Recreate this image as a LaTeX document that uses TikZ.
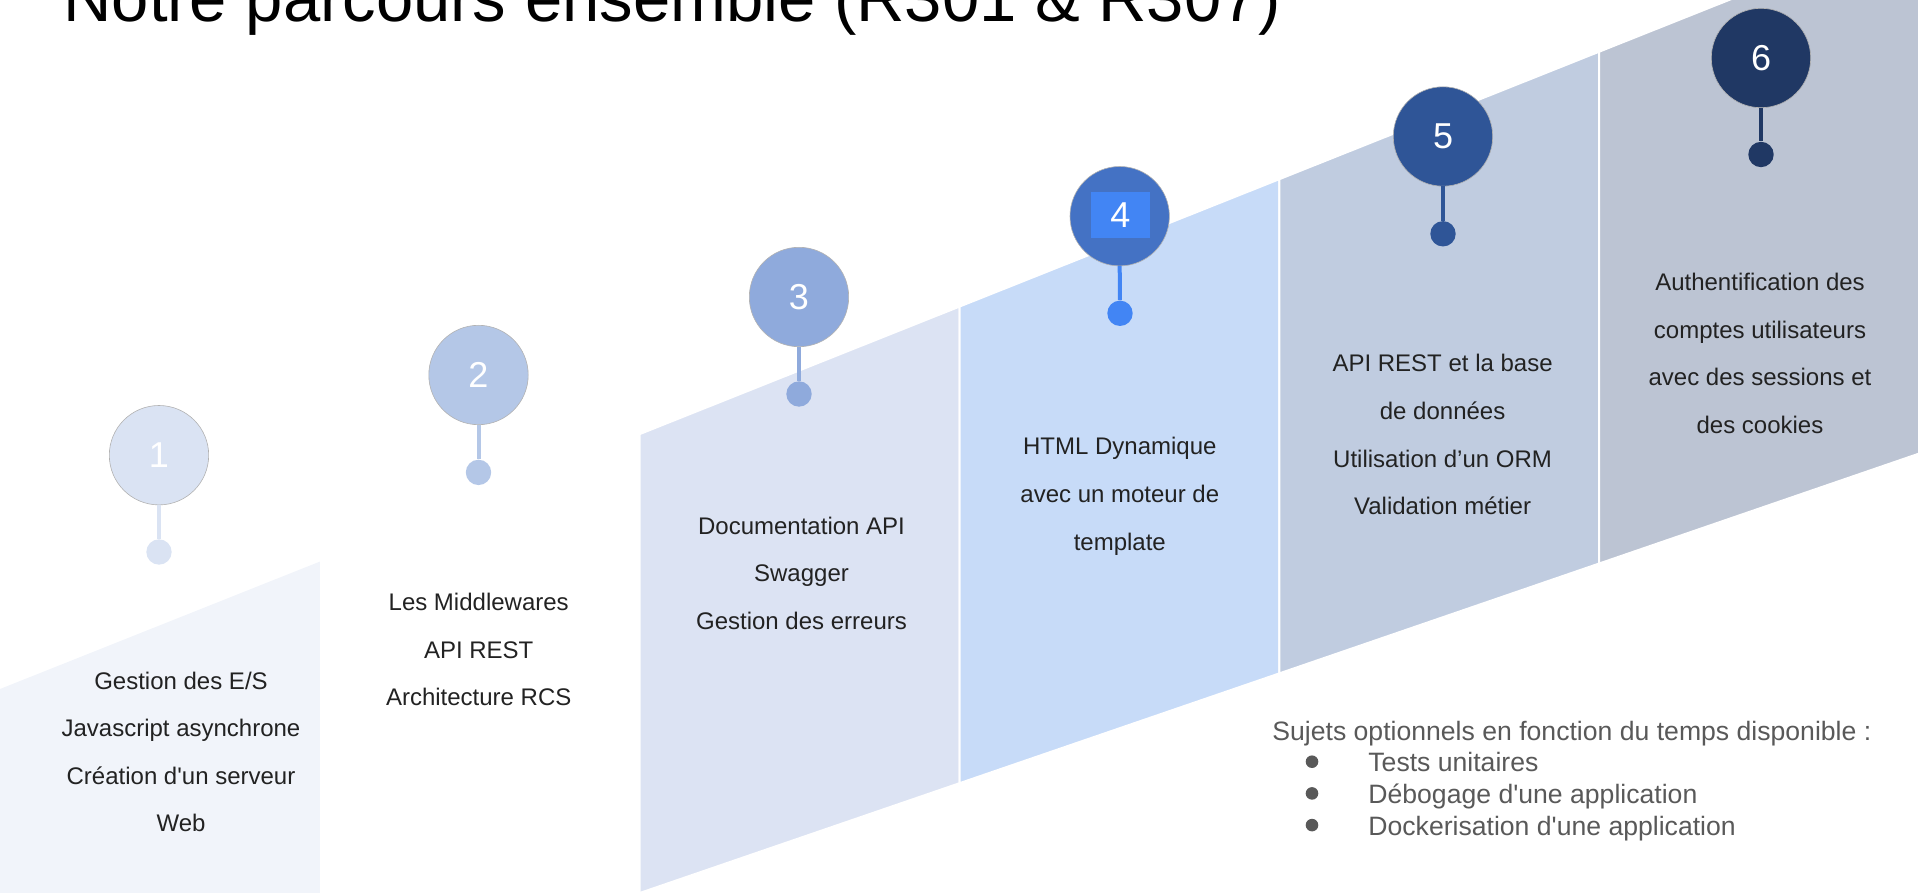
\documentclass[tikz,border=0pt]{standalone}
\usepackage{fontspec}
\setmainfont{Liberation Sans}
\definecolor{panelA}{HTML}{F1F4FA}
\definecolor{panelC}{HTML}{DCE3F3}
\definecolor{panelD}{HTML}{C7DBF8}
\definecolor{panelE}{HTML}{C0CCE0}
\definecolor{panelF}{HTML}{BCC4D3}
\definecolor{stepA}{HTML}{DAE3F3}
\definecolor{stepB}{HTML}{B4C7E7}
\definecolor{stepC}{HTML}{8FAADC}
\definecolor{stepD}{HTML}{4472C4}
\definecolor{stepDpin}{HTML}{4285F4}
\definecolor{stepE}{HTML}{2F5597}
\definecolor{stepF}{HTML}{203864}
\definecolor{bodytext}{HTML}{222222}
\definecolor{notetext}{HTML}{595959}
\tikzset{
  panel/.style={draw=white, line width=1pt},
  badge/.style={circle, inner sep=0pt, minimum size=49.7pt, fill=#1,
    draw=gray!60, line width=0.3pt, text=white,
    font=\fontsize{18}{20}\selectfont},
  pindot/.style={circle, inner sep=0pt, minimum size=12.7pt, fill=#1},
  pinline/.style={draw=#1, line width=2pt},
  % multi-line nodes: the base anchor sits on the last line's baseline
  ptext/.style={font=\fontsize{12}{23.75}\selectfont, align=center,
    anchor=base, inner sep=0pt, text=bodytext},
  note/.style={font=\fontsize{13.3}{15.85}\selectfont, anchor=base west,
    inner sep=0pt, text=notetext},
  bullet/.style={circle, inner sep=0pt, minimum size=6.3pt, fill=notetext}
}
\begin{document}
\begin{tikzpicture}[x=0.5pt, y=-0.5pt]
\useasboundingbox (0,0) rectangle (1919,893);
\clip (0,0) rectangle (1919,893);

% staircase panels
\fill[panelA] (0,689) -- (319.8,561.6) -- (319.8,893) -- (0,893) -- cycle;
\filldraw[panel, fill=panelC] (639.7,434.1) -- (959.5,306.6) -- (959.5,783.2) -- (639.7,893) -- cycle;
\filldraw[panel, fill=panelD] (959.5,306.6) -- (1279.3,179.2) -- (1279.3,673.4) -- (959.5,783.2) -- cycle;
\filldraw[panel, fill=panelE] (1279.3,179.2) -- (1599.2,51.7) -- (1599.2,563.5) -- (1279.3,673.4) -- cycle;
\filldraw[panel, fill=panelF] (1599.2,51.7) -- (1919,-75.7) -- (1919,453.6) -- (1599.2,563.5) -- cycle;

% title
\node[anchor=base west, inner sep=0pt, font=\fontsize{33.5}{38}\selectfont]
  (title) at (63,22) {Notre parcours ensemble (R301 \& R307)};

% step markers
\node[pindot=stepA] (d1) at (159,552) {};
\node[pindot=stepB] (d2) at (478.5,472.4) {};
\node[pindot=stepC] (d3) at (799,394) {};
\node[pindot=stepDpin] (d4) at (1120,313.3) {};
\node[pindot=stepE] (d5) at (1443,233.8) {};
\node[pindot=stepF] (d6) at (1761,154.5) {};

\node[badge=stepA] (c1) at (159,455.2) {1};
\node[badge=stepB] (c2) at (478.5,375) {2};
\node[badge=stepC] (c3) at (799,297) {3};
\node[badge=stepD] (c4) at (1119.7,216.2) {};
\node[badge=stepE] (c5) at (1443,136.5) {5};
\node[badge=stepF] (c6) at (1761,58) {6};
\node[fill=stepDpin, inner sep=0pt, minimum width=29.5pt, minimum height=23pt,
  text=white, font=\fontsize{18}{20}\selectfont] (n4) at (1120.5,215) {4};

\draw[pinline=stepA] (c1.south) -- (d1);
\draw[pinline=stepB] (c2.south) -- (d2);
\draw[pinline=stepC] (c3.south) -- (d3);
\draw[pinline=stepDpin] (c4.south) -- (d4);
\draw[pinline=stepE] (c5.south) -- (d5);
\draw[pinline=stepF] (c6.south) -- (d6);

% step contents
\node[ptext] (t1) at (181,831.8) {Gestion des E/S\\Javascript asynchrone\\Création d\textquotesingle un serveur\\Web};
\node[ptext] (t2) at (478.7,705.7) {Les Middlewares\\API REST\\Architecture RCS};
\node[ptext] (t3) at (801.5,629) {Documentation API\\Swagger\\Gestion des erreurs};
\node[ptext] (t4) at (1119.8,550) {HTML Dynamique\\avec un moteur de\\template};
\node[ptext] (t5) at (1442.6,514.5) {API REST et la base\\de données\\Utilisation d’un ORM\\Validation métier};
\node[ptext] (t6) at (1760,433.4) {Authentification des\\comptes utilisateurs\\avec des sessions et\\des cookies};

% optional topics
\node[note] (opt) at (1272,740) {Sujets optionnels en fonction du temps disponible :};
\node[note] (o1) at (1368,771.7) {Tests unitaires};
\node[note] (o2) at (1368,803.4) {Débogage d\textquotesingle une application};
\node[note] (o3) at (1368,835.1) {Dockerisation d\textquotesingle une application};
\node[bullet] (b1) at (1312,761.7) {};
\node[bullet] (b2) at (1312,793.4) {};
\node[bullet] (b3) at (1312,825.1) {};
\end{tikzpicture}
\end{document}
